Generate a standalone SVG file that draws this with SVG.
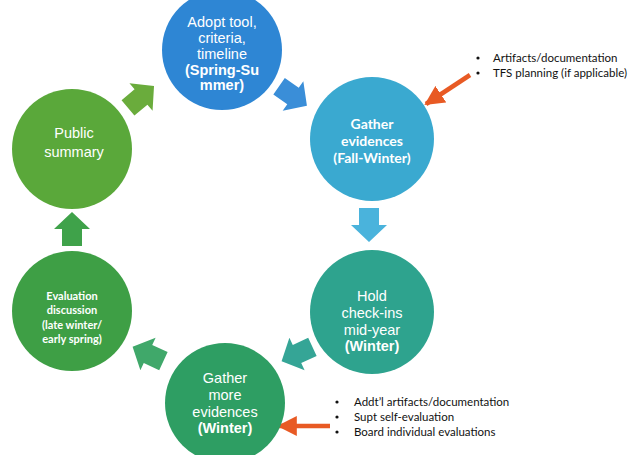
<svg xmlns="http://www.w3.org/2000/svg" width="628" height="455" viewBox="0 0 628 455">
<style>
.ct{font-family:"Liberation Sans",Arial,sans-serif;fill:#fff;text-anchor:middle;font-size:14.5px}
.cl{font-family:Lato,"Open Sans",sans-serif;fill:#fff;text-anchor:middle;font-weight:bold}
.b{font-weight:bold}
.note{font-family:Lato,"Open Sans",sans-serif;font-size:11.5px;fill:#111}
</style>
<defs>
<path id="blk" d="M-17,-10 L0,-10 L0,-18 L17,0 L0,18 L0,10 L-17,10 Z"/>
<marker id="oh" viewBox="0 0 10 10" refX="9" refY="5" markerWidth="4.4" markerHeight="4.4" orient="auto" markerUnits="strokeWidth">
<path d="M0,0 L10,5 L0,10 Z" fill="#e85a24"/>
</marker>
</defs>
<rect width="628" height="455" fill="#fff"/>

<g id="connectors">
<use href="#blk" transform="translate(141,97) rotate(-40)" fill="#6aac3c"/>
<use href="#blk" transform="translate(293,96) rotate(35)" fill="#3a8ed8"/>
<use href="#blk" transform="translate(369,225) rotate(90)" fill="#4ab3dc"/>
<use href="#blk" transform="translate(297,354) rotate(155)" fill="#35a596"/>
<use href="#blk" transform="translate(148,354) rotate(205)" fill="#40a86a"/>
<use href="#blk" transform="translate(72,229) rotate(-90)" fill="#3fa24a"/>
<line x1="470" y1="75" x2="426" y2="104" stroke="#e85a24" stroke-width="4.5" marker-end="url(#oh)"/>
<line x1="330" y1="426" x2="279" y2="426" stroke="#e85a24" stroke-width="4.5" marker-end="url(#oh)"/>
</g>

<g id="adopt">
<circle cx="222" cy="50" r="60" fill="#2e86d4"/>
<text class="ct" x="222" y="27" font-size="15">Adopt tool,</text>
<text class="ct" x="222" y="43" font-size="15">criteria,</text>
<text class="ct" x="222" y="59" font-size="15">timeline</text>
<text class="ct b" x="222" y="75" font-size="15">(Spring-Su</text>
<text class="ct b" x="222" y="90" font-size="15">mmer)</text>
</g>

<g id="gather">
<circle cx="372" cy="139" r="62" fill="#3aa9d0"/>
<text class="cl" x="372" y="129" font-size="14">Gather</text>
<text class="cl" x="372" y="146" font-size="14">evidences</text>
<text class="cl" x="372" y="163" font-size="14">(Fall-Winter)</text>
</g>

<g id="checkins">
<circle cx="372" cy="312" r="62" fill="#2ea38e"/>
<text class="ct" x="372" y="301">Hold</text>
<text class="ct" x="372" y="318">check-ins</text>
<text class="ct" x="372" y="335">mid-year</text>
<text class="ct b" x="372" y="351">(Winter)</text>
</g>

<g id="gathermore">
<circle cx="225" cy="403" r="60" fill="#2e9e63"/>
<text class="ct" x="225" y="383" font-size="15">Gather</text>
<text class="ct" x="225" y="400" font-size="15">more</text>
<text class="ct" x="225" y="417" font-size="15">evidences</text>
<text class="ct b" x="225" y="433" font-size="15">(Winter)</text>
</g>

<g id="evaluation">
<circle cx="72" cy="311" r="60" fill="#3e9f45"/>
<text class="cl" x="72" y="300" font-size="11">Evaluation</text>
<text class="cl" x="72" y="314" font-size="11">discussion</text>
<text class="cl" x="72" y="329" font-size="11">(late winter/</text>
<text class="cl" x="72" y="343" font-size="11">early spring)</text>
</g>

<g id="public">
<circle cx="72" cy="149" r="60" fill="#5aa83a"/>
<text class="ct" x="74" y="138" font-size="15">Public</text>
<text class="ct" x="74" y="157" font-size="15">summary</text>
</g>

<g id="notes-top">
<circle cx="478" cy="58" r="1.6" fill="#111"/>
<circle cx="478" cy="73" r="1.6" fill="#111"/>
<text class="note" x="493" y="62">Artifacts/documentation</text>
<text class="note" x="493" y="77">TFS planning (if applicable)</text>
</g>

<g id="notes-bottom">
<circle cx="337" cy="402" r="1.6" fill="#111"/>
<circle cx="337" cy="417" r="1.6" fill="#111"/>
<circle cx="337" cy="432" r="1.6" fill="#111"/>
<text class="note" x="354" y="406">Addt’l artifacts/documentation</text>
<text class="note" x="354" y="421">Supt self-evaluation</text>
<text class="note" x="354" y="436">Board individual evaluations</text>
</g>
</svg>
